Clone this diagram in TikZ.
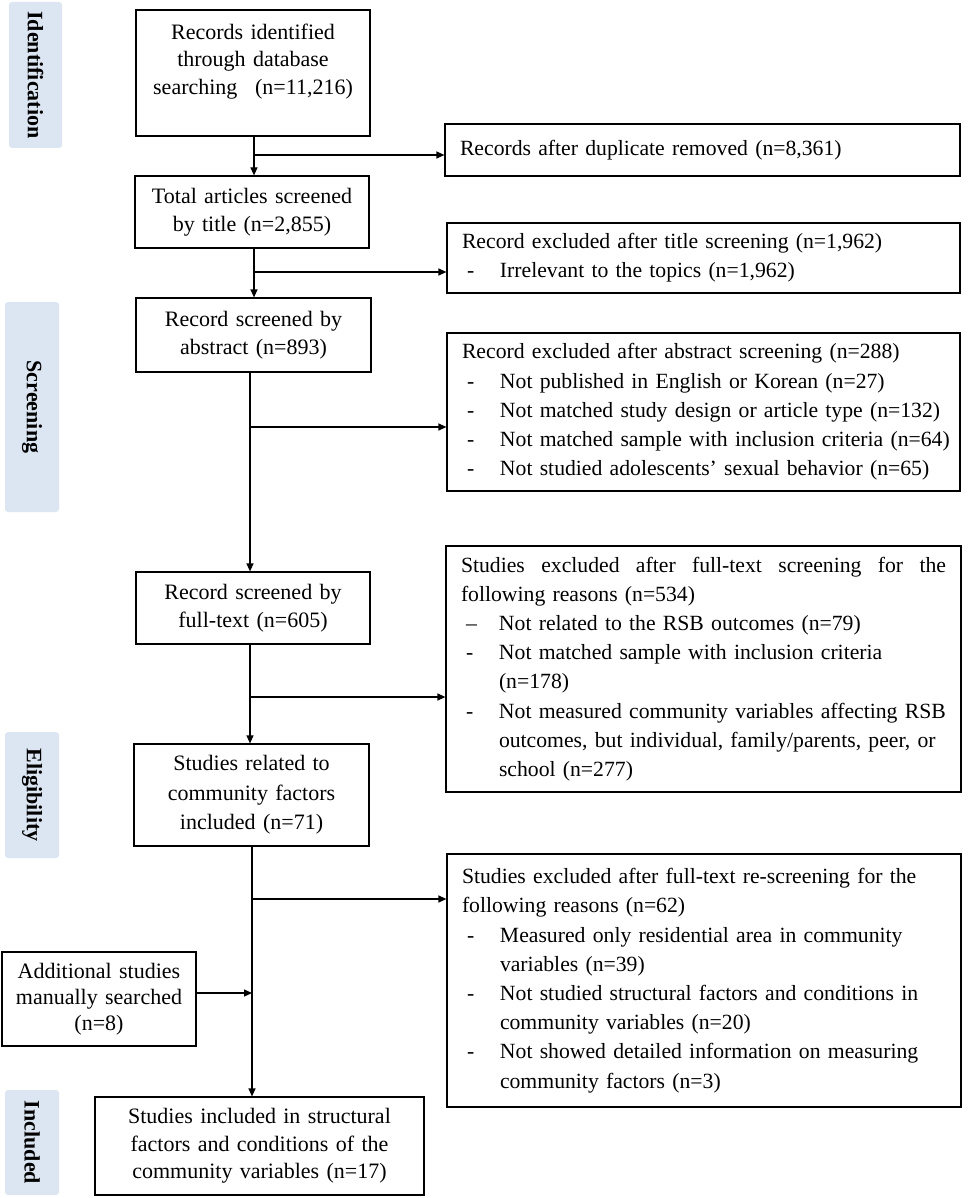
\documentclass[tikz,border=0pt]{standalone}
\usepackage{fontspec}
\setmainfont{Liberation Serif}
\usetikzlibrary{arrows.meta}
\definecolor{lblue}{RGB}{220,230,242}
\newcommand\itm[2]{\mbox{\makebox[38pt][l]{\hspace{5pt}#1}#2}}
\newcommand\cnt[1]{\mbox{\hspace*{38pt}#1}}
\tikzset{
  box/.style={draw, line width=1.2pt, inner sep=0pt, align=center,
    font=\fontsize{22}{27.5}\selectfont},
  rbox/.style={draw, line width=1.2pt, inner xsep=15pt, inner ysep=0pt, align=left,
    font=\fontsize{21.7}{29.2}\selectfont},
  stage/.style={fill=lblue, rounded corners=3pt, inner sep=0pt, rotate=-90,
    font=\bfseries\fontsize{22}{26}\selectfont},
  arr/.style={line width=1.2pt, -{Triangle[length=8pt,width=7pt]}}
}
\begin{document}
\begin{tikzpicture}[x=1pt,y=-1pt]
\fill[white] (0,0) rectangle (969,1198);
\useasboundingbox (0,0) rectangle (969,1198);

% stage labels
\node[stage, minimum width=146pt, minimum height=53pt] (s1) at (35.5,75) {Identification};
\node[stage, minimum width=210pt, minimum height=54pt] (s2) at (32,407) {Screening};
\node[stage, minimum width=126pt, minimum height=54pt] (s3) at (32,795) {Eligibility};
\node[stage, minimum width=105pt, minimum height=54pt] (s4) at (32,1142.5) {Included};

% main column
\node[box, minimum height=126pt, text width=234pt] (b1) at (253,73)
  {Records identified\\ through database\\ searching\hspace{0.8em}(n=11,216)\\ \mbox{}};
\node[box, minimum height=72pt, text width=234pt] (b2) at (252,212)
  {Total articles screened\\ by title (n=2,855)};
\node[box, minimum height=74pt, text width=235pt] (b3) at (253.5,335)
  {Record screened by\\ abstract (n=893)};
\node[box, minimum height=72pt, text width=234pt] (b4) at (253,608)
  {Record screened by\\ full-text (n=605)};
\node[box, minimum height=102pt, text width=235pt,
  font=\fontsize{22}{29.5}\selectfont] (b5) at (251.5,795)
  {Studies related to\\ community factors\\ included (n=71)};
\node[box, minimum height=94pt, text width=194pt,
  font=\fontsize{22}{26}\selectfont] (b6) at (99,999)
  {Additional studies\\ manually searched\\ (n=8)};
\node[box, minimum height=98pt, text width=329pt] (b7) at (259.5,1146)
  {Studies included in structural\\ factors and conditions of the\\ community variables (n=17)};

% right column
\node[rbox, minimum height=52pt, text width=485pt] (r1) at (702.5,150)
  {\mbox{Records after duplicate removed (n=8,361)}};
\node[rbox, minimum height=70pt, text width=483pt] (r2) at (703.5,258)
  {\mbox{Record excluded after title screening (n=1,962)}\\
   \itm{-}{Irrelevant to the topics (n=1,962)}};
\node[rbox, minimum height=158pt, text width=483pt] (r3) at (703.5,412)
  {\mbox{Record excluded after abstract screening (n=288)}\\
   \itm{-}{Not published in English or Korean (n=27)}\\
   \itm{-}{Not matched study design or article type (n=132)}\\
   \itm{-}{Not matched sample with inclusion criteria (n=64)}\\
   \itm{-}{Not studied adolescents’ sexual behavior (n=65)}};
\node[rbox, minimum height=246pt, text width=485pt] (r4) at (703.5,669)
  {\hbox to 485pt{Studies\hfill excluded\hfill after\hfill full-text\hfill screening\hfill for\hfill the}\\
   \mbox{following reasons (n=534)}\\
   \itm{–}{Not related to the RSB outcomes (n=79)}\\
   \itm{-}{Not matched sample with inclusion criteria}\\
   \cnt{(n=178)}\\
   \itm{-}{Not measured community variables affecting RSB}\\
   \cnt{outcomes, but individual, family/parents, peer, or}\\
   \cnt{school (n=277)}};
\node[rbox, minimum height=253pt, text width=484pt] (r5) at (704,980.5)
  {\mbox{Studies excluded after full-text re-screening for the}\\
   \mbox{following reasons (n=62)}\\
   \itm{-}{Measured only residential area in community}\\
   \cnt{variables (n=39)}\\
   \itm{-}{Not studied structural factors and conditions in}\\
   \cnt{community variables (n=20)}\\
   \itm{-}{Not showed detailed information on measuring}\\
   \cnt{community factors (n=3)}};

% junctions
\coordinate (j1) at (254,155);
\coordinate (j2) at (254,272);
\coordinate (j3) at (250,427);
\coordinate (j4) at (250,697);
\coordinate (j5) at (252,899);
\coordinate (j6) at (252,993);

\draw[arr] (b1.south -| j1) -- (b2.north -| j1);
\draw[arr] (j1) -- (j1 -| r1.west);
\draw[arr] (b2.south -| j2) -- (b3.north -| j2);
\draw[arr] (j2) -- (j2 -| r2.west);
\draw[arr] (b3.south -| j3) -- (b4.north -| j3);
\draw[arr] (j3) -- (j3 -| r3.west);
\draw[arr] (b4.south -| j4) -- (b5.north -| j4);
\draw[arr] (j4) -- (j4 -| r4.west);
\draw[arr] (b5.south -| j5) -- (b7.north -| j5);
\draw[arr] (j5) -- (j5 -| r5.west);
\draw[arr] (b6.east |- j6) -- (j6);
\end{tikzpicture}
\end{document}
